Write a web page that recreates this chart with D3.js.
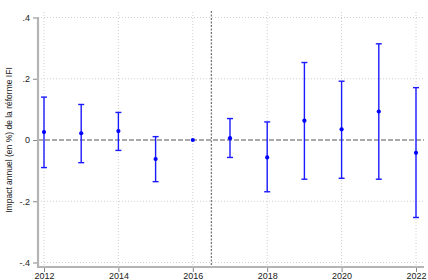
<!DOCTYPE html>
<html>
<head>
<meta charset="utf-8">
<script src="https://cdn.jsdelivr.net/npm/d3@7"></script>
<style>
body { margin: 0; background: #fff; }
text { font-family: "Liberation Sans", Arial, sans-serif; fill: #222; }
</style>
</head>
<body>
<script>
var years = [2012, 2013, 2014, 2015, 2016, 2017, 2018, 2019, 2020, 2021, 2022];
var estimate = [0.026, 0.022, 0.029, -0.062, 0, 0.006, -0.057, 0.063, 0.035, 0.093, -0.042];
var upper = [0.140, 0.116, 0.090, 0.011, 0, 0.070, 0.059, 0.253, 0.192, 0.314, 0.171];
var lower = [-0.090, -0.074, -0.034, -0.136, 0, -0.057, -0.169, -0.128, -0.125, -0.128, -0.253];
var xTicks = [2012, 2014, 2016, 2018, 2020, 2022];
var yTicks = [-0.4, -0.2, 0, 0.2, 0.4];
var yLabels = ["-.4", "-.2", "0", ".2", ".4"];
var reformYear = 2016.5;

var svg = d3.select("body").append("svg")
    .attr("width", 428)
    .attr("height", 280);

var x = d3.scaleLinear().domain([2012, 2022]).range([44, 416]);
var y = d3.scaleLinear().domain([-0.4, 0.4]).range([262.5, 17.5]);

var rows = years.map(function(d, i) {
    return {year: d, est: estimate[i], hi: upper[i], lo: lower[i]};
});

// grid
svg.append("g").selectAll("line.gy")
    .data(yTicks.filter(function(d) { return d != 0; }))
    .enter().append("line")
    .attr("x1", 38).attr("x2", 424)
    .attr("y1", function(d) { return y(d); })
    .attr("y2", function(d) { return y(d); })
    .attr("stroke", "#d0d0d0")
    .attr("stroke-width", 1)
    .attr("stroke-dasharray", "1,2");

svg.append("g").selectAll("line.gx")
    .data(xTicks)
    .enter().append("line")
    .attr("x1", function(d) { return x(d); })
    .attr("x2", function(d) { return x(d); })
    .attr("y1", 12).attr("y2", 267)
    .attr("stroke", "#d0d0d0")
    .attr("stroke-width", 1)
    .attr("stroke-dasharray", "1,2");

// zero line and reform line
svg.append("line")
    .attr("x1", 38).attr("x2", 424)
    .attr("y1", y(0)).attr("y2", y(0))
    .attr("stroke", "#555")
    .attr("stroke-width", 1)
    .attr("stroke-dasharray", "5,2");

svg.append("line")
    .attr("x1", x(reformYear)).attr("x2", x(reformYear))
    .attr("y1", 11).attr("y2", 267)
    .attr("stroke", "#777")
    .attr("stroke-width", 1.3)
    .attr("stroke-dasharray", "2,1.5");

// axes
svg.append("g")
    .attr("transform", "translate(38,0)")
    .call(d3.axisLeft(y).tickValues(yTicks).tickSize(5).tickPadding(3)
        .tickFormat(function(d, i) { return yLabels[i]; }));

svg.append("g")
    .attr("transform", "translate(0,267)")
    .call(d3.axisBottom(x).tickValues(xTicks).tickSize(5).tickPadding(1)
        .tickFormat(d3.format("d")));

svg.selectAll(".domain").remove();
svg.selectAll(".tick line").attr("stroke", "#888");
svg.selectAll(".tick text").attr("font-size", 9).attr("fill", "#222");

svg.append("line")
    .attr("x1", 38).attr("x2", 38)
    .attr("y1", 17).attr("y2", 268)
    .attr("stroke", "#b4b4b4").attr("stroke-width", 2.2);
svg.append("line")
    .attr("x1", 37).attr("x2", 424)
    .attr("y1", 267).attr("y2", 267)
    .attr("stroke", "#b4b4b4").attr("stroke-width", 2.2);

// error bars
var bars = svg.append("g").selectAll("g.bar")
    .data(rows)
    .enter().append("g");

bars.append("line")
    .attr("x1", function(d) { return x(d.year); })
    .attr("x2", function(d) { return x(d.year); })
    .attr("y1", function(d) { return y(d.hi); })
    .attr("y2", function(d) { return y(d.lo); })
    .attr("stroke", "#1a1aff")
    .attr("stroke-width", 1.4);

bars.selectAll("line.cap")
    .data(function(d) { return d.hi == d.lo ? [] : [{year: d.year, v: d.hi}, {year: d.year, v: d.lo}]; })
    .enter().append("line")
    .attr("x1", function(d) { return x(d.year) - 3; })
    .attr("x2", function(d) { return x(d.year) + 3; })
    .attr("y1", function(d) { return y(d.v); })
    .attr("y2", function(d) { return y(d.v); })
    .attr("stroke", "#1a1aff")
    .attr("stroke-width", 1.4);

bars.append("circle")
    .attr("cx", function(d) { return x(d.year); })
    .attr("cy", function(d) { return y(d.est); })
    .attr("r", 2.1)
    .attr("fill", "#0000ff");

// y title
svg.append("text")
    .attr("transform", "translate(12," + y(0) + ") rotate(-90)")
    .attr("text-anchor", "middle")
    .attr("font-size", 8.5)
    .text("Impact annuel (en %) de la réforme IFI");
</script>
</body>
</html>
